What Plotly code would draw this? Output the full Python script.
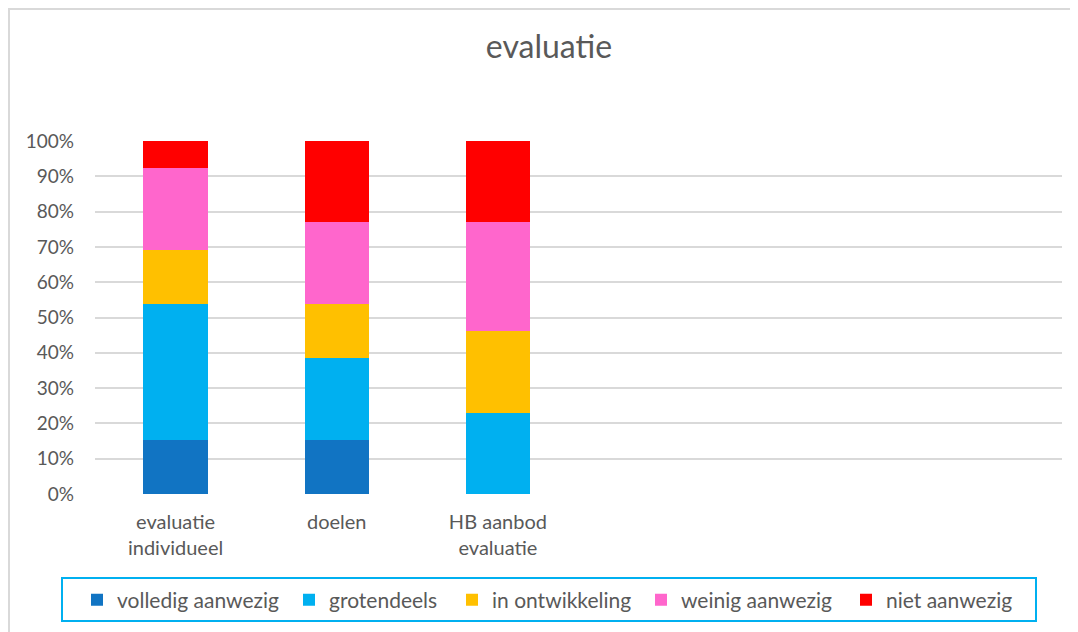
import plotly.graph_objects as go

categories = ["evaluatie<br>individueel", "doelen", "HB aanbod<br>evaluatie", "", "", ""]
series_names = ["volledig aanwezig", "grotendeels", "in ontwikkeling", "weinig aanwezig", "niet aanwezig"]
colors = ["#1174C3", "#00B0F0", "#FFC000", "#FF66CC", "#FF0000"]
# counts per category (out of 13)
volledig = [2, 2, 0]
grotendeels = [5, 3, 3]
ontwikkeling = [2, 2, 3]
weinig = [3, 3, 4]
niet = [1, 3, 3]
values = [volledig, grotendeels, ontwikkeling, weinig, niet]

totals = [sum(v[i] for v in values) for i in range(3)]
xpos = list(range(len(categories)))

# page-pixel layout (page has 8px body offset)
OFF = 8
PL, PR, PT, PB = 95, 1062, 141, 494   # plot area in page pixels
PW, PH = PR - PL, PB - PT

def px_x(x):
    return (x - PL) / PW

def px_y(y):
    return (PB - y) / PH

legend_text_starts = [115, 327, 490, 679, 884]

font = "Lato, Open Sans, sans-serif"
fig = go.Figure()
legend_layouts = {}
for i, (name, col, vals) in enumerate(zip(series_names, colors, values)):
    lname = "legend" if i == 0 else f"legend{i + 1}"
    fig.add_trace(go.Bar(
        x=xpos[:3], y=[v / t for v, t in zip(vals, totals)], name=name,
        marker=dict(color=col, line=dict(width=0)), width=0.4, legend=lname,
        showlegend=True,
    ))
    legend_layouts[lname] = dict(
        x=px_x(legend_text_starts[i] - 38), xanchor="left",
        y=px_y(600), yanchor="middle", orientation="h",
        bgcolor="rgba(0,0,0,0)", borderwidth=0, visible=True,
        font=dict(size=21, color="#595959", family=font), itemwidth=30,
    )

fig.update_layout(
    barmode="stack",
    showlegend=True,
    width=1078, height=632,
    margin=dict(l=PL - OFF, r=1078 + OFF - PR, t=PT - OFF, b=632 + OFF - PB),
    paper_bgcolor="white", plot_bgcolor="white",
    font=dict(family=font, color="#595959", size=19),
    title=dict(text="evaluatie", x=(549 - OFF) / 1078, xanchor="center",
               y=1 - (47 - OFF) / 632, yanchor="middle",
               font=dict(size=32, color="#595959", family=font)),
    xaxis=dict(range=[-0.5, 5.5], tickmode="array", tickvals=xpos[:3], ticktext=categories[:3],
               showgrid=False, zeroline=False, showline=False,
               ticks="", ticklabelstandoff=14, tickfont=dict(size=20, color="#595959")),
    yaxis=dict(range=[0, 1], tickformat=".0%", dtick=0.1, showgrid=True, gridcolor="#D9D9D9",
               gridwidth=1.5, zeroline=False, ticks="", ticklabelstandoff=20,
               tickfont=dict(size=19, color="#595959")),
    bargap=0,
    **legend_layouts,
)
# legend frame and chart border
fig.add_shape(type="rect", xref="paper", yref="paper",
              x0=px_x(62), x1=px_x(1036), y0=px_y(621), y1=px_y(578),
              line=dict(color="#00B0F0", width=2))
fig.add_shape(type="rect", xref="paper", yref="paper",
              x0=px_x(9), x1=px_x(1100), y0=px_y(660), y1=px_y(9),
              line=dict(color="#D9D9D9", width=2))

fig.write_html("out.html")
